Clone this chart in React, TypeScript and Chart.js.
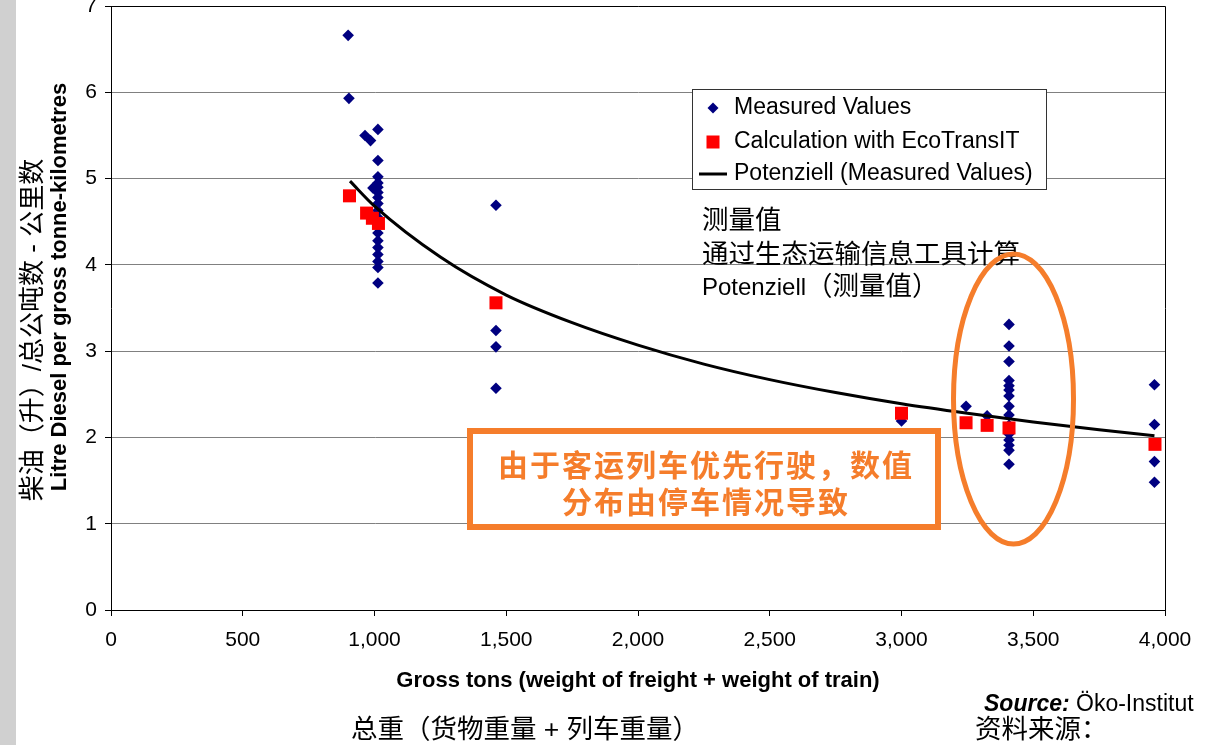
import { useEffect, useRef } from "react";
import { Chart, registerables } from "chart.js";

Chart.register(...registerables);

// ---- data ----
const measuredX = [
  900, 903,
  964, 985, 994,
  1013, 1013, 1013, 1013, 1013, 1013, 1013, 1013, 1013, 1013, 1013, 1013, 1013, 1013, 1013, 1013, 1013, 1013,
  1461, 1461, 1461, 1461,
  3000, 3245, 3325,
  3408, 3408, 3408, 3408, 3408, 3408, 3408, 3408, 3408, 3408, 3408, 3408, 3408, 3408, 3408,
  3960, 3960, 3960, 3960,
];
const measuredY = [
  6.66, 5.93,
  5.5, 5.44, 4.89,
  5.57, 5.21, 5.02, 4.95, 4.9, 4.84, 4.78, 4.71, 4.63, 4.55, 4.47, 4.37, 4.28, 4.2, 4.12, 4.04, 3.97, 3.79,
  4.69, 3.24, 3.05, 2.57,
  2.19, 2.36, 2.25,
  3.31, 3.06, 2.88, 2.66, 2.6, 2.55, 2.48, 2.36, 2.26, 2.14, 2.04, 1.97, 1.91, 1.85, 1.69,
  2.61, 2.15, 1.72, 1.48,
];
const calcX = [905, 970, 992, 1015, 1461, 3000, 3245, 3325, 3408, 3962];
const calcY = [4.8, 4.6, 4.54, 4.48, 3.56, 2.28, 2.17, 2.14, 2.11, 1.92];
const trendX = [907, 1000, 1250, 1500, 1750, 2000, 2250, 2500, 2750, 3000, 3250, 3500, 3750, 3960];
const trendY = [4.97, 4.68, 4.09, 3.65, 3.33, 3.07, 2.85, 2.67, 2.52, 2.39, 2.28, 2.18, 2.09, 2.02];
const xTicks = [0, 500, 1000, 1500, 2000, 2500, 3000, 3500, 4000];
const yTicks = [0, 1, 2, 3, 4, 5, 6, 7];

const legendLabels = ["Measured Values", "Calculation with EcoTransIT", "Potenziell (Measured Values)"];
const noteLines = ["测量值", "通过生态运输信息工具计算"];
const noteLatin = "Potenziell";
const noteCjk = "（测量值）";
const boxLines = ["由于客运列车优先行驶，数值", "分布由停车情况导致"];
const xTitle = "Gross tons (weight of freight + weight of train)";
const xTitleCn = "总重（货物重量 + 列车重量）";
const yTitle = "Litre Diesel per gross tonne-kilometres";
const yTitleCn = "柴油（升）/总公吨数 - 公里数";
const sourceBold = "Source:";
const sourceText = " Öko-Institut";
const sourceCn = "资料来源：";

const NAVY = "#000080";
const RED = "#ff0000";
const ORANGE = "#f57d2b";
const LAT = "'Liberation Sans', Arial, 'Noto Sans CJK SC', sans-serif";
const CJK = "'Liberation Sans', 'Noto Sans CJK SC', sans-serif";

const W = 1209;
const H = 765;
const OY = 20; // canvas is shifted up by this amount

export default function App() {
  const ref = useRef<HTMLCanvasElement | null>(null);

  useEffect(() => {
    const canvas = ref.current;
    if (!canvas) return;
    document.body.style.overflow = "hidden";
    const v = (y: number) => y + OY;

    const decor = {
      id: "decor",
      beforeDraw(chart: any) {
        const ctx = chart.ctx;
        ctx.save();
        ctx.fillStyle = "#ffffff";
        ctx.fillRect(0, 0, W, H);
        ctx.fillStyle = "#d0d0d0";
        ctx.fillRect(0, 0, 16, H);
        ctx.restore();
      },
      afterDraw(chart: any) {
        const ctx = chart.ctx as CanvasRenderingContext2D;
        const a = chart.chartArea;
        ctx.save();
        // plot frame top/right
        ctx.strokeStyle = "#000";
        ctx.lineWidth = 1;
        ctx.beginPath();
        ctx.moveTo(Math.round(a.left) + 0.5, Math.round(a.top) + 0.5);
        ctx.lineTo(Math.round(a.right) + 0.5, Math.round(a.top) + 0.5);
        ctx.lineTo(Math.round(a.right) + 0.5, Math.round(a.bottom) + 0.5);
        ctx.stroke();

        // legend
        ctx.fillStyle = "#fff";
        ctx.fillRect(692, v(89), 354, 100);
        ctx.strokeStyle = "#333";
        ctx.strokeRect(692.5, v(89) + 0.5, 354, 100);
        ctx.fillStyle = NAVY;
        ctx.beginPath();
        ctx.moveTo(713, v(108) - 5.5);
        ctx.lineTo(718.5, v(108));
        ctx.lineTo(713, v(108) + 5.5);
        ctx.lineTo(707.5, v(108));
        ctx.closePath();
        ctx.fill();
        ctx.fillStyle = RED;
        ctx.fillRect(706.5, v(142) - 6.5, 13, 13);
        ctx.strokeStyle = "#000";
        ctx.lineWidth = 3;
        ctx.beginPath();
        ctx.moveTo(699, v(174));
        ctx.lineTo(727, v(174));
        ctx.stroke();
        ctx.fillStyle = "#000";
        ctx.font = `23px ${LAT}`;
        ctx.textBaseline = "middle";
        ctx.textAlign = "left";
        ctx.fillText(legendLabels[0], 734, v(108));
        ctx.fillText(legendLabels[1], 734, v(142));
        ctx.fillText(legendLabels[2], 734, v(174));

        // notes in Chinese
        ctx.font = `26.5px ${CJK}`;
        ctx.fillText(noteLines[0], 702, v(222));
        ctx.fillText(noteLines[1], 702, v(256));
        ctx.font = `24px ${CJK}`;
        ctx.fillText(noteLatin, 702, v(288));
        const wl = ctx.measureText(noteLatin).width;
        ctx.font = `26.5px ${CJK}`;
        ctx.fillText(noteCjk, 702 + wl, v(288));

        // orange box
        ctx.fillStyle = "#fff";
        ctx.fillRect(470, v(431), 468, 96);
        ctx.strokeStyle = ORANGE;
        ctx.lineWidth = 6;
        ctx.strokeRect(470, v(431), 468, 96);
        ctx.fillStyle = ORANGE;
        ctx.font = `bold 30px 'Noto Sans CJK SC', sans-serif`;
        ctx.textAlign = "center";
        (ctx as any).letterSpacing = "2px";
        ctx.fillText(boxLines[0], 706, v(465));
        ctx.fillText(boxLines[1], 706, v(502));
        (ctx as any).letterSpacing = "0px";

        // ellipse
        ctx.strokeStyle = ORANGE;
        ctx.lineWidth = 5;
        ctx.beginPath();
        ctx.ellipse(1013.5, v(399), 60, 145, 0, 0, Math.PI * 2);
        ctx.stroke();

        // axis titles
        ctx.fillStyle = "#000";
        ctx.textAlign = "center";
        ctx.font = `bold 22px ${LAT}`;
        ctx.fillText(xTitle, 638, v(681));
        ctx.font = `26.5px ${CJK}`;
        ctx.fillText(xTitleCn, 525, v(731));

        ctx.save();
        ctx.translate(60, v(287));
        ctx.rotate(-Math.PI / 2);
        ctx.font = `bold 22px ${LAT}`;
        ctx.fillText(yTitle, 0, 0);
        ctx.restore();
        ctx.save();
        ctx.translate(34, v(330));
        ctx.rotate(-Math.PI / 2);
        ctx.font = `26px ${CJK}`;
        ctx.fillText(yTitleCn, 0, 0);
        ctx.restore();

        // source
        ctx.textAlign = "left";
        ctx.font = `italic bold 23px ${LAT}`;
        ctx.fillText(sourceBold, 984, v(705));
        const wb = ctx.measureText(sourceBold).width;
        ctx.font = `23px ${LAT}`;
        ctx.fillText(sourceText, 984 + wb, v(705));
        ctx.font = `26.5px ${CJK}`;
        ctx.fillText(sourceCn, 975, v(731));
        ctx.restore();
      },
    };

    const chart = new Chart(canvas, {
      type: "scatter",
      data: {
        datasets: [
          {
            type: "line",
            label: legendLabels[2],
            data: trendX.map((x, i) => ({ x, y: trendY[i] })),
            borderColor: "#000",
            borderWidth: 3,
            pointRadius: 0,
            fill: false,
            cubicInterpolationMode: "monotone",
          } as any,
          {
            label: legendLabels[1],
            data: calcX.map((x, i) => ({ x, y: calcY[i] })),
            pointStyle: "rect",
            pointRadius: 9.2,
            pointHoverRadius: 9.2,
            backgroundColor: RED,
            borderColor: RED,
            borderWidth: 0,
          },
          {
            label: legendLabels[0],
            data: measuredX.map((x, i) => ({ x, y: measuredY[i] })),
            pointStyle: "rectRot",
            pointRadius: 5.8,
            pointHoverRadius: 5.8,
            backgroundColor: NAVY,
            borderColor: NAVY,
            borderWidth: 0,
          },
        ],
      },
      options: {
        animation: false,
        responsive: false,
        devicePixelRatio: 1,
        layout: { padding: { top: 26, right: 44, left: 0, bottom: 0 } },
        plugins: { legend: { display: false }, tooltip: { enabled: false } },
        events: [],
        scales: {
          x: {
            type: "linear",
            min: 0,
            max: 4000,
            afterBuildTicks: (s: any) => {
              s.ticks = xTicks.map((value) => ({ value }));
            },
            afterFit: (s: any) => {
              s.height = 135;
            },
            ticks: {
              color: "#000",
              font: { family: LAT, size: 21 },
              padding: 12,
              maxRotation: 0,
              autoSkip: false,
              callback: (val: any) => Number(val).toLocaleString("en-US"),
            },
            grid: { drawOnChartArea: false, color: "#000", tickColor: "#000", tickLength: 6 },
            border: { color: "#000", width: 1 },
          },
          y: {
            type: "linear",
            min: 0,
            max: 7,
            afterBuildTicks: (s: any) => {
              s.ticks = yTicks.map((value) => ({ value }));
            },
            afterFit: (s: any) => {
              s.width = 111;
            },
            ticks: {
              color: "#000",
              font: { family: LAT, size: 21 },
              padding: 8,
              autoSkip: false,
            },
            grid: { color: "#808080", tickColor: "#000", tickLength: 6 },
            border: { color: "#000", width: 1 },
          },
        },
      },
      plugins: [decor],
    });

    return () => chart.destroy();
  }, []);

  return (
    <div style={{ position: "absolute", left: 0, top: -OY, width: W, height: H, overflow: "hidden" }}>
      <canvas ref={ref} width={W} height={H} style={{ width: W, height: H, display: "block" }} />
    </div>
  );
}
